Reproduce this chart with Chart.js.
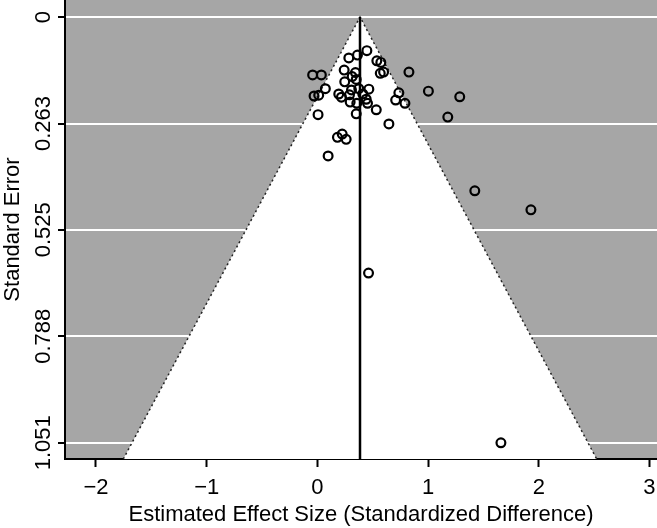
<!DOCTYPE html>
<html><head><meta charset="utf-8">
<script src="https://cdn.jsdelivr.net/npm/chart.js@4.4.1/dist/chart.umd.min.js"></script>
<style>html,body{margin:0;padding:0;background:#fff}#wrap{width:657px;height:528px}</style>
</head><body><div id="wrap"><canvas id="c" width="657" height="528"></canvas></div>
<script>
const effectSizes = [0.447,0.284,0.362,0.537,0.573,-0.043,0.036,0.827,0.568,0.598,0.242,0.344,0.314,0.351,0.247,0.072,-0.030,0.012,0.308,0.374,0.465,0.193,0.217,0.290,0.410,0.441,0.453,0.296,0.356,0.736,0.707,0.791,1.003,1.286,0.532,0.006,0.351,1.178,0.646,0.181,0.224,0.260,0.097,1.422,1.929,0.462,1.658];
const standardErrors = [0.083,0.101,0.094,0.108,0.112,0.143,0.143,0.136,0.139,0.136,0.131,0.137,0.147,0.154,0.160,0.177,0.195,0.193,0.180,0.177,0.178,0.190,0.198,0.192,0.190,0.203,0.213,0.210,0.213,0.187,0.205,0.213,0.183,0.197,0.229,0.241,0.239,0.247,0.264,0.297,0.289,0.302,0.343,0.429,0.476,0.632,1.051];
const pooledEffect = 0.385;
const seMax = 1.091;
const xTicks = [-2,-1,0,1,2,3];
const yTicks = [0,0.263,0.525,0.788,1.051];
const xRange = [-2.28, 3.068];
const yRange = [-0.042, 1.091];

const points = effectSizes.map((v,i)=>({x:v,y:standardErrors[i]}));
const funnel = [
  {x: pooledEffect - 1.96*seMax, y: seMax},
  {x: pooledEffect, y: 0},
  {x: pooledEffect + 1.96*seMax, y: seMax}
];
const centre = [{x: pooledEffect, y: 0},{x: pooledEffect, y: seMax}];

const bgPlugin = {
  id:'bg',
  beforeDraw(chart){
    const {ctx, chartArea:a} = chart;
    ctx.save(); ctx.fillStyle='#a6a6a6';
    ctx.fillRect(a.left, a.top, a.right-a.left, a.bottom-a.top);
    ctx.restore();
  }
};
const fam = '"Liberation Sans", Arial, sans-serif';
new Chart(document.getElementById('c'), {
  type:'scatter',
  data:{datasets:[
    {type:'line', data:funnel, borderColor:'#222', borderWidth:1.5, borderDash:[2,3], pointRadius:0, fill:{value:seMax}, backgroundColor:'#fff', order:3},
    {type:'line', data:centre, borderColor:'#000', borderWidth:2.5, pointRadius:0, fill:false, order:2},
    {data:points, pointRadius:4.4, pointBorderWidth:2.2, pointBorderColor:'#000', pointBackgroundColor:'rgba(0,0,0,0)', borderColor:'#000', backgroundColor:'rgba(0,0,0,0)', order:1}
  ]},
  options:{
    responsive:false, animation:false,
    layout:{padding:0, autoPadding:false},
    plugins:{legend:{display:false}, tooltip:{enabled:false}},
    scales:{
      x:{type:'linear', min:xRange[0], max:xRange[1],
        afterBuildTicks(s){ s.ticks = xTicks.map(v=>({value:v})); },
        afterFit(s){ s.height = 69; s.paddingLeft=0; s.paddingRight=0; },
        grid:{drawOnChartArea:false, tickLength:8, tickColor:'#000', tickWidth:2},
        border:{color:'#000', width:2},
        ticks:{color:'#000', font:{family:fam, size:22}, padding:8, maxRotation:0, autoSkip:false,
          callback:v=>String(v).replace('-','\u2212')},
        title:{display:true, text:'Estimated Effect Size (Standardized Difference)', color:'#000', font:{family:fam, size:22}, padding:{top:0,bottom:0}}
      },
      y:{type:'linear', reverse:true, min:yRange[0], max:yRange[1],
        afterBuildTicks(s){ s.ticks = yTicks.map(v=>({value:v})); },
        afterFit(s){ s.width = 65; s.paddingTop=0; s.paddingBottom=0; },
        grid:{color:'#fff', lineWidth:2, tickLength:7, tickColor:'#000', tickWidth:2},
        border:{color:'#000', width:2},
        ticks:{color:'#000', font:{family:fam, size:22}, padding:-13, minRotation:90, maxRotation:90, crossAlign:'center', autoSkip:false,
          callback:v=>String(v)},
        title:{display:true, text:'Standard Error', color:'#000', font:{family:fam, size:22}, padding:{top:0,bottom:0}}
      }
    }
  },
  plugins:[bgPlugin]
});
</script></body></html>
